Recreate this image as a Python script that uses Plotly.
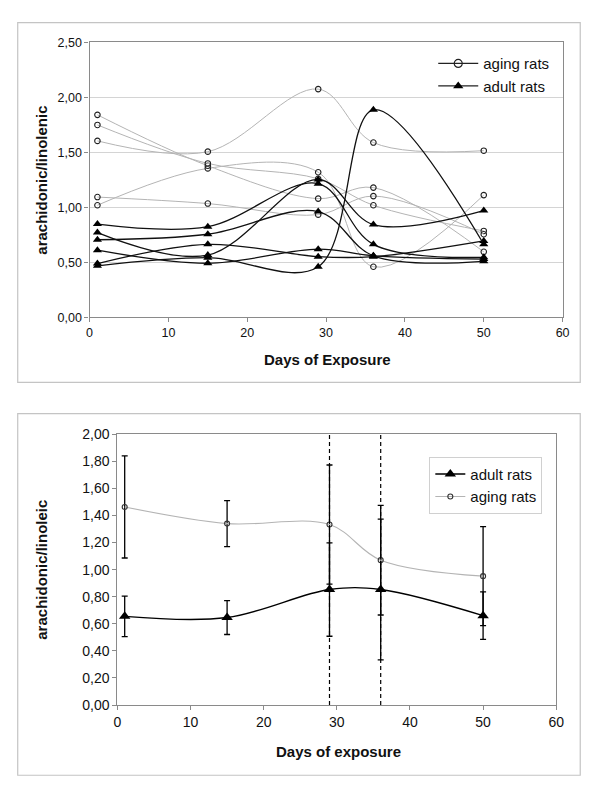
import plotly.graph_objects as go

W, H = 600, 796

# ---------------- top chart data ----------------
days = [1, 15, 29, 36, 50]

aging_1 = [1.605, 1.507, 2.076, 1.590, 1.516]
aging_2 = [1.020, 1.355, 1.320, 0.460, 1.112]
aging_3 = [1.842, 1.379, 1.080, 1.180, 0.596]
aging_4 = [1.750, 1.400, 1.260, 1.020, 0.786]
aging_5 = [1.094, 1.035, 0.934, 1.103, 0.756]

adult_1 = [0.848, 0.825, 1.216, 0.664, 0.546]
adult_2 = [0.706, 0.756, 0.962, 0.560, 0.510]
adult_3 = [0.611, 0.492, 0.620, 0.560, 0.530]
adult_4 = [0.489, 0.664, 0.552, 0.552, 0.695]
adult_5 = [0.771, 0.566, 1.254, 0.844, 0.971]
adult_6 = [0.469, 0.543, 0.460, 1.888, 0.665]

top_yticks = [0.0, 0.5, 1.0, 1.5, 2.0, 2.5]
top_xticks = [0, 10, 20, 30, 40, 50, 60]

# ---------------- bottom chart data ----------------
adult_mean = [0.655, 0.646, 0.853, 0.853, 0.660]
adult_err = [0.150, 0.125, 0.345, 0.520, 0.175]
aging_mean = [1.463, 1.340, 1.333, 1.070, 0.952]
aging_err = [0.377, 0.170, 0.440, 0.405, 0.365]
bottom_yticks = [0.0, 0.2, 0.4, 0.6, 0.8, 1.0, 1.2, 1.4, 1.6, 1.8, 2.0]
marker_days = [29, 36]

FONT = "Liberation Sans, Arial, sans-serif"

fig = go.Figure()

aging_sets = [aging_1, aging_2, aging_3, aging_4, aging_5]
adult_sets = [adult_1, adult_2, adult_3, adult_4, adult_5, adult_6]

for s in aging_sets:
    fig.add_trace(go.Scatter(
        x=days, y=s, mode="lines+markers", xaxis="x", yaxis="y",
        line=dict(color="#b4b4b4", width=1, shape="spline", smoothing=1.0),
        marker=dict(symbol="circle-open", size=5.5, color="#222222", line=dict(width=1.1)),
        showlegend=False, hoverinfo="skip"))

for s in adult_sets:
    fig.add_trace(go.Scatter(
        x=days, y=s, mode="lines+markers", xaxis="x", yaxis="y",
        line=dict(color="#111111", width=1.3, shape="spline", smoothing=1.0),
        marker=dict(symbol="triangle-up", size=8, color="#000000"),
        showlegend=False, hoverinfo="skip"))

# legend entries for top chart
fig.add_trace(go.Scatter(
    x=[None], y=[None], mode="lines+markers", xaxis="x", yaxis="y",
    name="aging rats", legend="legend",
    line=dict(color="#222222", width=1.2),
    marker=dict(symbol="circle-open", size=8, color="#222222", line=dict(width=1.2))))
fig.add_trace(go.Scatter(
    x=[None], y=[None], mode="lines+markers", xaxis="x", yaxis="y",
    name="adult rats", legend="legend",
    line=dict(color="#222222", width=1.2),
    marker=dict(symbol="triangle-up", size=9, color="#000000")))

# ---------------- bottom chart ----------------
for d in marker_days:
    fig.add_shape(type="line", xref="x2", yref="y2", x0=d, x1=d, y0=0, y1=2.0,
                  line=dict(color="#000000", width=1.2, dash="4px,3px"))

fig.add_trace(go.Scatter(
    x=days, y=adult_mean, mode="lines+markers", xaxis="x2", yaxis="y2",
    name="adult rats", legend="legend2",
    line=dict(color="#000000", width=1.4, shape="spline", smoothing=1.0),
    marker=dict(symbol="triangle-up", size=10, color="#000000"),
    error_y=dict(type="data", array=adult_err, visible=True, color="#000000",
                 thickness=1.3, width=3)))
fig.add_trace(go.Scatter(
    x=days, y=aging_mean, mode="lines+markers", xaxis="x2", yaxis="y2",
    name="aging rats", legend="legend2",
    line=dict(color="#b4b4b4", width=1.1, shape="spline", smoothing=1.0),
    marker=dict(symbol="circle-open", size=5, color="#333333", line=dict(width=1.1)),
    error_y=dict(type="data", array=aging_err, visible=True, color="#000000",
                 thickness=1.3, width=3)))

# outer frames
for (x0, y0, x1, y1) in [(14, 15, 588, 382), (14, 414, 588, 783)]:
    fig.add_shape(type="rect", xref="paper", yref="paper", layer="below",
                  x0=x0 / W, x1=x1 / W, y0=1 - y1 / H, y1=1 - y0 / H,
                  line=dict(color="#c4c4c4", width=1.2), fillcolor="white")

axis_common = dict(showline=True, linecolor="#8a8a8a", linewidth=1.2, mirror=True,
                   ticks="outside", ticklen=4, tickcolor="#8a8a8a", zeroline=False)


def ann(text, x, y, angle=0):
    return dict(text=text, xref="paper", yref="paper", x=x / W, y=1 - y / H,
                xanchor="center", yanchor="middle", showarrow=False, textangle=angle,
                font=dict(size=15, family=FONT, color="#111111"))


fig.update_layout(
    width=W, height=H, margin=dict(l=0, r=0, t=0, b=0),
    paper_bgcolor="white", plot_bgcolor="white",
    separators=",.",
    font=dict(family=FONT, color="#111111"),
    xaxis=dict(domain=[87.3 / W, 570 / W], range=[0, 60], tickvals=top_xticks,
               showgrid=False, anchor="y", tickfont=dict(size=12.5), **axis_common),
    yaxis=dict(domain=[1 - 315.7 / H, 1 - 35.2 / H], range=[0, 2.5], tickvals=top_yticks,
               tickformat=".2f", showgrid=True, gridcolor="#d4d4d4", gridwidth=1,
               anchor="x", tickfont=dict(size=12.5), **axis_common),
    xaxis2=dict(domain=[115.7 / W, 563.5 / W], range=[0, 60], tickvals=top_xticks,
                showgrid=False, anchor="y2", tickfont=dict(size=14), **axis_common),
    yaxis2=dict(domain=[1 - 711.3 / H, 1 - 435 / H], range=[0, 2.0], tickvals=bottom_yticks,
                tickformat=".2f", showgrid=False, anchor="x2", tickfont=dict(size=14),
                **axis_common),
    legend=dict(x=438 / W, y=1 - 40 / H, xanchor="left", yanchor="top",
                bgcolor="rgba(0,0,0,0)", borderwidth=0,
                font=dict(family=FONT, size=15, color="#111111"),
                itemwidth=40, tracegroupgap=0),
    legend2=dict(x=434 / W, y=1 - 458 / H, xanchor="left", yanchor="top",
                 bgcolor="white", bordercolor="#d0d0d0", borderwidth=1,
                 font=dict(family=FONT, size=15, color="#111111"),
                 itemwidth=30, tracegroupgap=0),
    annotations=[
        ann("<b>Days of Exposure</b>", 330, 359),
        ann("<b>arachidonic/linolenic</b>", 38, 176, -90),
        ann("<b>Days of exposure</b>", 341, 759),
        ann("<b>arachidonic/linoleic</b>", 38, 573, -90),
    ],
)

fig.write_html("out.html", config={"displayModeBar": False},
               post_script="document.body.style.margin='0';")
